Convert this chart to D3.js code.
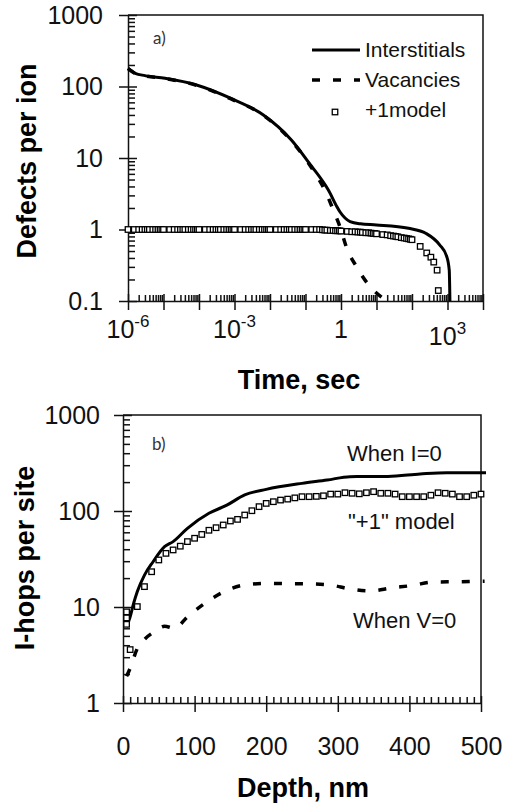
<!DOCTYPE html>
<html>
<head>
<meta charset="utf-8">
<script src="https://cdn.jsdelivr.net/npm/d3@7"></script>
<style>
  html, body { margin: 0; padding: 0; background: #fff; }
  svg { display: block; font-family: "Liberation Sans", Arial, sans-serif; }
  .axis path, .axis line { stroke: #111; stroke-width: 1.5; }
  .axis text { fill: #111; font-size: 25px; }
  .title { font-weight: bold; font-size: 27px; fill: #000; }
</style>
</head>
<body>
<svg id="chart" width="513" height="805"></svg>
<script>
// ---- panel a: defects per ion vs time ----
const interstitialTimes = [1e-6, 1.6e-6, 3e-6, 1.1e-5, 8.5e-5, 8e-4, 6.5e-3, 4e-2, 0.15, 0.29, 0.44, 0.76, 0.93, 1.3, 1.8, 3.5, 10, 80, 250, 600, 950, 1120, 1170];
const interstitialValues = [180, 153, 142, 130, 105, 68, 40, 17.9, 7.6, 4.9, 3.57, 2.1, 1.77, 1.45, 1.29, 1.2, 1.16, 1.04, 0.88, 0.61, 0.42, 0.27, 0.1];

const vacancyTimes = [1e-6, 1.6e-6, 3e-6, 1.1e-5, 8.5e-5, 8e-4, 6.5e-3, 4e-2, 0.078, 0.186, 0.355, 0.6, 0.93, 1.45, 2.75, 5.9, 14, 20];
const vacancyValues = [178, 152, 141, 129, 104, 67, 39.5, 17.4, 11.6, 6.1, 3.5, 1.9, 1.1, 0.55, 0.3, 0.17, 0.113, 0.1];

const plusOneTimes = [
  1e-6, 1.5e-6, 2e-6, 2.5e-6, 3e-6, 3.5e-6, 4e-6, 5e-6, 6e-6, 7e-6, 8e-6, 9e-6,
  1e-5, 1.5e-5, 2e-5, 2.5e-5, 3e-5, 3.5e-5, 4e-5, 5e-5, 6e-5, 7e-5, 8e-5, 9e-5,
  1e-4, 1.5e-4, 2e-4, 2.5e-4, 3e-4, 3.5e-4, 4e-4, 5e-4, 6e-4, 7e-4, 8e-4, 9e-4,
  1e-3, 1.5e-3, 2e-3, 2.5e-3, 3e-3, 3.5e-3, 4e-3, 5e-3, 6e-3, 7e-3, 8e-3, 9e-3,
  1e-2, 1.5e-2, 2e-2, 2.5e-2, 3e-2, 3.5e-2, 4e-2, 5e-2, 6e-2, 7e-2, 8e-2, 9e-2,
  0.1, 0.15, 0.2, 0.25, 0.3, 0.35, 0.4, 0.5, 0.6, 0.7, 0.8, 0.9,
  1, 1.5, 2, 2.5, 3, 3.5, 4, 5, 6, 7, 8, 9,
  10, 15, 20, 25, 30, 35, 40, 50, 60, 70, 80, 90,
  100, 170, 260, 340, 410, 510, 550
];
const plusOneValues = [
  1, 1, 1, 1, 1, 1, 1, 1, 1, 1, 1, 1,
  1, 1, 1, 1, 1, 1, 1, 1, 1, 1, 1, 1,
  1, 1, 1, 1, 1, 1, 1, 1, 1, 1, 1, 1,
  1, 1, 1, 1, 1, 1, 1, 1, 1, 1, 1, 1,
  1, 1, 1, 1, 1, 1, 1, 1, 1, 1, 1, 1,
  1, 1, 1, 1, 0.99, 0.98, 0.98, 0.97, 0.97, 0.96, 0.96, 0.96,
  0.95, 0.94, 0.93, 0.93, 0.92, 0.92, 0.91, 0.9, 0.9, 0.89, 0.88, 0.88,
  0.87, 0.85, 0.84, 0.82, 0.81, 0.8, 0.79, 0.77, 0.76, 0.75, 0.74, 0.73,
  0.72, 0.58, 0.47, 0.41, 0.35, 0.27, 0.14
];

const timeTicks = [1e-6, 1e-3, 1, 1e3];
const timeTickBase = ['10', '10', '1', '10'];
const timeTickExp = ['-6', '-3', '', '3'];
const defectTicks = [0.1, 1, 10, 100, 1000];
const defectTickLabels = ['0.1', '1', '10', '100', '1000'];
const legendLabels = ['Interstitials', 'Vacancies', '+1model'];

// ---- panel b: I-hops per site vs depth ----
const whenIDepths = [5, 10, 15, 20, 30, 42, 58, 70, 90, 120, 145, 170, 200, 250, 285, 317, 370, 415, 452, 507];
const whenIHops = [6.2, 7.9, 11, 14.5, 21.5, 29.6, 42.5, 48, 66, 94.6, 115, 147, 168, 194, 210, 228, 229, 243, 251, 251];

const whenVDepths = [5, 10, 20, 30, 45, 58, 72, 90, 115, 140, 170, 200, 230, 260, 288, 317, 345, 375, 405, 433, 462, 505];
const whenVHops = [1.9, 2.3, 3.7, 4.6, 5.6, 6.3, 6.0, 7.9, 11, 14.3, 17, 17.6, 17.5, 17.4, 17, 15.4, 14.7, 15.8, 16.8, 18.2, 18.3, 18.6];

const plusOneDepths = [5, 5, 5, 10, 20, 30, 40, 50, 60, 70, 80, 90, 100, 110, 120, 130, 140, 150, 160, 170, 180, 190, 200,
  210, 220, 230, 240, 250, 260, 270, 280, 290, 300, 310, 320, 330, 340, 350, 360, 370, 380, 390, 400,
  410, 420, 430, 440, 450, 460, 470, 480, 490, 500];
const plusOneHops = [8.9, 7.7, 6.6, 3.6, 10.1, 16.3, 23.3, 30.9, 36.2, 39.3, 43, 48, 52, 57, 63, 67, 71.5, 78.7, 81.8, 90.8, 100.7, 111, 120,
  125, 130, 133, 137, 141, 141, 142, 144, 150, 150, 155, 153, 151, 155, 159, 153, 153, 150, 141, 141,
  141, 141, 146, 155, 153, 150, 141, 141, 146, 150];

const depthTicks = [0, 100, 200, 300, 400, 500];
const hopTicks = [1, 10, 100, 1000];
const hopTickLabels = ['1', '10', '100', '1000'];

const svg = d3.select('#chart');
const markerSize = 5.5;
const dashPattern = '8 13';

function pairs(xs, ys) {
  return xs.map((x, i) => ({ x, y: ys[i] }));
}

// crossing major ticks, inside minor ticks, labels outside
function drawYAxis(scale, x, majors, labels, minors, padding) {
  svg.append('g').attr('class', 'axis')
    .attr('transform', `translate(${x},0)`)
    .call(d3.axisLeft(scale).tickValues(majors).tickFormat((d, i) => labels[i])
      .tickSize(9).tickSizeOuter(0).tickPadding(padding));
  const inner = svg.append('g').attr('class', 'axis')
    .attr('transform', `translate(${x},0)`)
    .call(d3.axisRight(scale).tickValues(majors).tickFormat('').tickSize(9).tickSizeOuter(0));
  inner.select('.domain').remove();
  const minor = svg.append('g').attr('class', 'axis')
    .attr('transform', `translate(${x},0)`)
    .call(d3.axisRight(scale).tickValues(minors).tickFormat('').tickSize(7).tickSizeOuter(0));
  minor.select('.domain').remove();
}

function drawXAxis(scale, y, majors, minors, format, padding) {
  svg.append('g').attr('class', 'axis')
    .attr('transform', `translate(0,${y})`)
    .call(d3.axisBottom(scale).tickValues(majors).tickFormat(format)
      .tickSize(9).tickSizeOuter(0).tickPadding(padding));
  const inner = svg.append('g').attr('class', 'axis')
    .attr('transform', `translate(0,${y})`)
    .call(d3.axisTop(scale).tickValues(majors).tickFormat('').tickSize(7).tickSizeOuter(0));
  inner.select('.domain').remove();
  const minor = svg.append('g').attr('class', 'axis')
    .attr('transform', `translate(0,${y})`)
    .call(d3.axisTop(scale).tickValues(minors).tickFormat('').tickSize(6).tickSizeOuter(0));
  minor.select('.domain').remove();
}

function isPower(v) {
  return Math.abs(Math.log10(v) - Math.round(Math.log10(v))) < 1e-9;
}

function drawSquares(data, xScale, yScale) {
  svg.append('g').selectAll('rect')
    .data(data)
    .join('rect')
    .attr('x', (d) => xScale(d.x) - markerSize / 2)
    .attr('y', (d) => yScale(d.y) - markerSize / 2)
    .attr('width', markerSize)
    .attr('height', markerSize)
    .attr('fill', '#fff')
    .attr('stroke', '#000')
    .attr('stroke-width', 1.3);
}

// ================= panel a =================
const a = { left: 128, right: 483, top: 15, bottom: 301 };
const xTime = d3.scaleLog().domain([1e-6, 1e4]).range([a.left, a.right]);
const yDefects = d3.scaleLog().domain([0.1, 1000]).range([a.bottom, a.top]);

svg.append('path')
  .attr('d', `M${a.left},${a.top}H${a.right}V${a.bottom}`)
  .attr('fill', 'none').attr('stroke', '#111').attr('stroke-width', 1.5);

drawYAxis(yDefects, a.left, defectTicks, defectTickLabels,
  yDefects.ticks(40).filter((v) => !isPower(v)), 16);

const timeMajors = xTime.ticks(40).filter(isPower);
drawXAxis(xTime, a.bottom, timeMajors, xTime.ticks(40).filter((v) => !isPower(v)), '', 0);

// time labels with superscripts
const timeLabels = svg.append('g');
timeTicks.forEach((t, i) => {
  const label = timeLabels.append('text')
    .attr('x', xTime(t))
    .attr('y', t > 1 ? 345 : 338)
    .attr('text-anchor', 'middle')
    .attr('font-size', 25)
    .attr('fill', '#111');
  label.append('tspan').text(timeTickBase[i]);
  if (timeTickExp[i]) {
    label.append('tspan').attr('dy', -11).attr('font-size', 17).text(timeTickExp[i]);
  }
});

const timeLine = d3.line()
  .x((d) => xTime(d.x))
  .y((d) => yDefects(d.y))
  .curve(d3.curveMonotoneX);

svg.append('path')
  .datum(pairs(vacancyTimes, vacancyValues))
  .attr('d', timeLine)
  .attr('fill', 'none').attr('stroke', '#000').attr('stroke-width', 3.5)
  .attr('stroke-dasharray', dashPattern);

svg.append('path')
  .datum(pairs(interstitialTimes, interstitialValues))
  .attr('d', timeLine)
  .attr('fill', 'none').attr('stroke', '#000').attr('stroke-width', 3);

drawSquares(pairs(plusOneTimes, plusOneValues), xTime, yDefects);

svg.append('text').attr('x', 153).attr('y', 44)
  .attr('font-family', 'Lato, "Open Sans", sans-serif').attr('font-size', 17).attr('fill', '#333')
  .text('a)');

// legend
const legend = svg.append('g').attr('font-size', 21).attr('fill', '#111');
legend.append('line').attr('x1', 312).attr('x2', 360).attr('y1', 50).attr('y2', 50)
  .attr('stroke', '#000').attr('stroke-width', 3);
legend.append('line').attr('x1', 312).attr('x2', 360).attr('y1', 80).attr('y2', 80)
  .attr('stroke', '#000').attr('stroke-width', 3.5).attr('stroke-dasharray', dashPattern);
legend.append('rect').attr('x', 335 - markerSize / 2).attr('y', 112 - markerSize / 2)
  .attr('width', markerSize).attr('height', markerSize)
  .attr('fill', '#fff').attr('stroke', '#000').attr('stroke-width', 1.3);
legendLabels.forEach((label, i) => {
  legend.append('text').attr('x', 365).attr('y', 57 + i * 30).text(label);
});

svg.append('text').attr('class', 'title')
  .attr('transform', 'translate(36,161) rotate(-90)')
  .attr('text-anchor', 'middle').text('Defects per ion');
svg.append('text').attr('class', 'title')
  .attr('x', 299).attr('y', 389).attr('text-anchor', 'middle').text('Time, sec');

// ================= panel b =================
const b = { left: 123, right: 481, top: 415, bottom: 703 };
const xDepth = d3.scaleLinear().domain([0, 500]).range([b.left, b.right]);
const yHops = d3.scaleLog().domain([1, 1000]).range([b.bottom, b.top]);

svg.append('path')
  .attr('d', `M${b.left},${b.top}H${b.right}V${b.bottom}`)
  .attr('fill', 'none').attr('stroke', '#111').attr('stroke-width', 1.5);

drawYAxis(yHops, b.left, hopTicks, hopTickLabels,
  yHops.ticks(40).filter((v) => !isPower(v)), 14);

drawXAxis(xDepth, b.bottom, depthTicks, d3.range(0, 501, 10).filter((v) => v % 100 !== 0),
  d3.format('d'), 25);
svg.selectAll('.axis text').filter(function () {
  return this.parentNode.parentNode.getAttribute('transform') === `translate(0,${b.bottom})`;
}).attr('font-size', 26);

const depthLine = d3.line()
  .x((d) => xDepth(d.x))
  .y((d) => yHops(d.y))
  .curve(d3.curveMonotoneX);

svg.append('path')
  .datum(pairs(whenVDepths, whenVHops))
  .attr('d', depthLine)
  .attr('fill', 'none').attr('stroke', '#000').attr('stroke-width', 3.5)
  .attr('stroke-dasharray', dashPattern);

svg.append('path')
  .datum(pairs(whenIDepths, whenIHops))
  .attr('d', depthLine)
  .attr('fill', 'none').attr('stroke', '#000').attr('stroke-width', 3);

drawSquares(pairs(plusOneDepths, plusOneHops), xDepth, yHops);

svg.append('text').attr('x', 152).attr('y', 450)
  .attr('font-family', 'Lato, "Open Sans", sans-serif').attr('font-size', 17).attr('fill', '#333')
  .text('b)');

const notes = svg.append('g').attr('font-size', 22).attr('fill', '#111');
notes.append('text').attr('x', 347).attr('y', 461).text('When I=0');
notes.append('text').attr('x', 348).attr('y', 529).text('"+1" model');
notes.append('text').attr('x', 353).attr('y', 628).text('When V=0');

svg.append('text').attr('class', 'title')
  .attr('transform', 'translate(34,558) rotate(-90)')
  .attr('text-anchor', 'middle').text('I-hops per site');
svg.append('text').attr('class', 'title')
  .attr('x', 303).attr('y', 797).attr('text-anchor', 'middle').text('Depth, nm');
</script>
</body>
</html>
